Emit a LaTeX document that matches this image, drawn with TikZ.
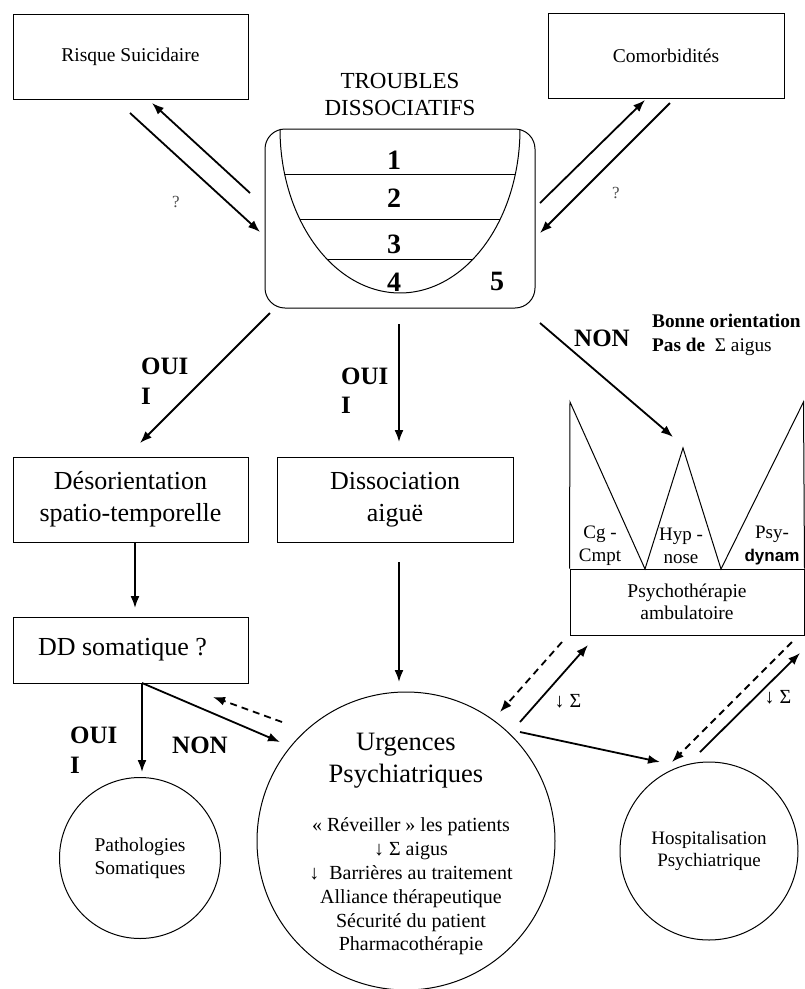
\documentclass[tikz,border=0pt]{standalone}
\usepackage{fontspec}
\setmainfont{Liberation Serif}
\newfontfamily\arialfont{Liberation Sans}
\usetikzlibrary{positioning}
\usetikzlibrary{arrows.meta}
\newcommand\sizeat[2]{\fontsize{#1}{#2}\selectfont}

\begin{document}
\begin{tikzpicture}[x=1pt, y=-1pt,
squarednode/.style={rectangle, draw, line width=1pt, inner sep=0pt, align=center,
                    minimum width=235pt, font=\sizeat{26}{32}},
roundnode/.style={circle, draw, line width=1pt, inner sep=0pt, align=center},
txt/.style={inner sep=0pt, align=center},
yesno/.style={inner sep=0pt, align=left, font=\sizeat{25}{30}\bfseries},
link/.style={-{Latex[length=12pt,width=9pt]}, line width=1.8pt},
dashlink/.style={link, dash pattern=on 7pt off 5pt},
]
\useasboundingbox (0,0) rectangle (805,989);

%Nodes
\node[squarednode, minimum height=85pt, font=\sizeat{19.5}{23}] (risque) at (130.5,56.5) {Risque Suicidaire};
\node[squarednode, minimum width=236pt, minimum height=85pt, font=\sizeat{19.5}{23}] (comorb) at (666,55.5) {Comorbidités};

\node[rectangle, draw, line width=1pt, rounded corners=20pt,
      minimum width=270pt, minimum height=179pt] (trb) at (400,218.5) {};
\node[txt, font=\sizeat{23}{27}] (trbtitle) [above=13pt of trb] {TROUBLES\\DISSOCIATIFS};

\node[squarednode, minimum height=85pt] (desor) at (130.5,499.5) {Désorientation\\spatio-temporelle};
\node[squarednode, minimum width=236pt, minimum height=85pt] (dissoc) at (395,499.5) {Dissociation\\aiguë};
\node[squarednode, minimum height=66pt] (dd) at (130.5,650) {DD somatique ?\hspace*{16pt}};

\node[squarednode, minimum width=234pt, minimum height=66pt, font=\sizeat{19.5}{22}] (psy) at (687,602) {Psychothérapie\\ambulatoire};

\node[roundnode, minimum size=161pt, font=\sizeat{19.5}{23}] (patho) at (140,858) {Pathologies\\Somatiques};
\node[roundnode, minimum size=298pt] (urg) at (406,841) {};
\node[roundnode, minimum size=178pt, font=\sizeat{19}{21.5}] (hosp) at (709,851) {Hospitalisation\\Psychiatrique};

%Texts
\node[txt, font=\sizeat{28}{30}\bfseries] (n1) at (394,160) {1};
\node[txt, font=\sizeat{28}{30}\bfseries] (n2) at (394,198) {2};
\node[txt, font=\sizeat{28}{30}\bfseries] (n3) at (394,244) {3};
\node[txt, font=\sizeat{28}{30}\bfseries] (n4) at (394,282) {4};
\node[txt, font=\sizeat{28}{30}\bfseries] (n5) at (497,281) {5};

\node[txt, font=\sizeat{26.5}{32}] (urgtitle) at (406,761) {Urgences\\Psychiatriques};
\node[txt, font=\sizeat{20}{23.8}] (urglist) at (411,886.5)
  {« Réveiller » les patients\\↓ Σ aigus\\↓\ \ Barrières au traitement\\Alliance thérapeutique\\Sécurité du patient\\Pharmacothérapie};

\node[txt, text=black!70, font=\sizeat{17}{18}] (q1) at (176,202) {?};
\node[txt, text=black!70, font=\sizeat{17}{18}] (q2) at (616,193) {?};

\node[yesno, anchor=west] (oui1) at (141,381.5) {OUI\\I};
\node[yesno, anchor=west, font=\sizeat{25}{29}\bfseries] (oui2) at (341,390.5) {OUI\\I};
\node[yesno, anchor=west] (oui3) at (70,750) {OUI\\I};
\node[yesno] (non1) at (602,338) {NON};
\node[yesno] (non2) at (200,745) {NON};

\node[txt, anchor=west, align=left, font=\sizeat{19.3}{24}] (orient) at (652,335)
  {\textbf{Bonne orientation}\\\textbf{Pas de}\ \ Σ aigus};

\node[txt, font=\sizeat{19}{23}] (cg) at (600,546) {Cg -\\Cmpt};
\node[txt, font=\sizeat{19}{23}] (hyp) at (681,546) {Hyp -\\nose};
\node[txt, font=\sizeat{19}{23}] (psyd) at (772,546) {Psy-\\{\arialfont\bfseries\sizeat{17}{23}dynam}};

\node[txt, font=\sizeat{20}{22}] (s1) at (568,701) {↓ Σ};
\node[txt, font=\sizeat{20}{22}] (s2) at (778,697) {↓ Σ};

%Bowl and M shape
\draw[line width=1pt] plot[domain=180:360, smooth, samples=60] ({400+120*cos(\x)},{129-164*sin(\x)});
\draw[line width=1pt] (284.6,174) -- (515.4,174);
\draw[line width=1pt] (299.7,219) -- (500.3,219);
\draw[line width=1pt] (326.8,259) -- (473.2,259);

\draw[line width=1pt] (psy.north west) -- (570,402) -- (645,569) -- (683,448) -- (721,569) -- (803.5,402) -- (psy.north east);

%Arrow ends
\coordinate (a1) at (250,193);  \coordinate (b1) at (152,103);
\coordinate (a2) at (130,113);  \coordinate (b2) at (260,232);
\coordinate (a3) at (540,203);  \coordinate (b3) at (645,100);
\coordinate (a4) at (670,103);  \coordinate (b4) at (540,233);
\coordinate (a5) at (270,313);  \coordinate (b5) at (140,443);
\coordinate (a6) at (399,324);  \coordinate (b6) at (399,442);
\coordinate (a7) at (540,323);  \coordinate (b7) at (673,437);
\coordinate (b8) at (135,608);
\coordinate (a9) at (399,562);  \coordinate (b9) at (399,682);
\coordinate (dd0) at (142,683);
\coordinate (b10) at (142,772);
\coordinate (b11) at (280,742);
\coordinate (a12) at (282,722); \coordinate (b12) at (213,697);
\coordinate (a13) at (562,642); \coordinate (b13) at (500,712);
\coordinate (a14) at (520,722); \coordinate (b14) at (588,645);
\coordinate (a15) at (520,732); \coordinate (b15) at (660,762);
\coordinate (a16) at (792,642); \coordinate (b16) at (672,762);
\coordinate (a17) at (700,752); \coordinate (b17) at (800,653);

%Lines
\draw[link] (a1) -- (b1);
\draw[link] (a2) -- (b2);
\draw[link] (a3) -- (b3);
\draw[link] (a4) -- (b4);
\draw[link] (a5) -- (b5);
\draw[link] (a6) -- (b6);
\draw[link] (a7) -- (b7);
\draw[link] (desor.south -| b8) -- (b8);
\draw[link] (a9) -- (b9);
\draw[link] (dd0) -- (b10);
\draw[link] (dd0) -- (b11);
\draw[dashlink] (a12) -- (b12);
\draw[dashlink] (a13) -- (b13);
\draw[link] (a14) -- (b14);
\draw[link] (a15) -- (b15);
\draw[dashlink] (a16) -- (b16);
\draw[link] (a17) -- (b17);
\end{tikzpicture}
\end{document}
